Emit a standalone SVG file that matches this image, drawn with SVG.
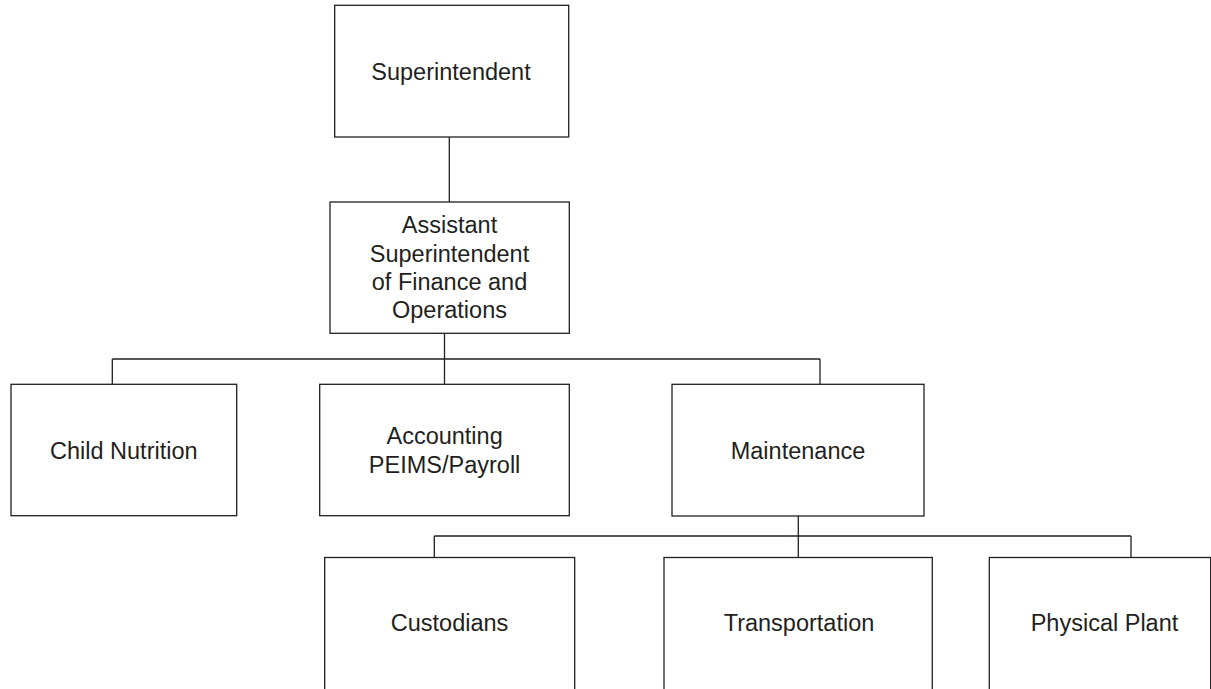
<svg xmlns="http://www.w3.org/2000/svg" width="1211" height="689" viewBox="0 0 1211 689">
<style>
.box{fill:#fff;stroke:#231f20;stroke-width:1.3}
.ln{fill:none;stroke:#231f20;stroke-width:1.3}
text{font-family:"Liberation Sans",Arial,sans-serif;font-size:23.5px;fill:#231f20;text-anchor:middle}
</style>
<rect width="1211" height="689" fill="#fff"/>
<g id="connectors">
<path class="ln" d="M449.3 137V202"/>
<path class="ln" d="M444.5 333.3V384.3M112.3 359H820M112.3 359V384.3M820 359V384.3"/>
<path class="ln" d="M798.3 516V557.5M434.3 536H1131M434.3 536V557.5M1131 536V557.5"/>
</g>
<g id="superintendent"><rect class="box" x="334.7" y="5.3" width="234" height="131.7"/><text x="451" y="80">Superintendent</text></g>
<g id="assistant-superintendent"><rect class="box" x="330" y="202" width="239.3" height="131.3"/><text x="449.5" y="233.3">Assistant</text><text x="449.5" y="261.7">Superintendent</text><text x="449.5" y="290">of Finance and</text><text x="449.5" y="317.7">Operations</text></g>
<g id="child-nutrition"><rect class="box" x="11" y="384.3" width="225.7" height="131.4"/><text x="123.8" y="459.3">Child Nutrition</text></g>
<g id="accounting"><rect class="box" x="319.7" y="384.3" width="249.6" height="131.4"/><text x="444.6" y="444.3">Accounting</text><text x="444.6" y="472.7">PEIMS/Payroll</text></g>
<g id="maintenance"><rect class="box" x="672" y="384.3" width="252" height="131.7"/><text x="798" y="459">Maintenance</text></g>
<g id="custodians"><rect class="box" x="324.7" y="557.5" width="250" height="140"/><text x="449.6" y="631">Custodians</text></g>
<g id="transportation"><rect class="box" x="664" y="557.5" width="268.3" height="140"/><text x="799" y="631">Transportation</text></g>
<g id="physical-plant"><rect class="box" x="989.3" y="557.5" width="221.4" height="140"/><text x="1104.5" y="631">Physical Plant</text></g>
</svg>
